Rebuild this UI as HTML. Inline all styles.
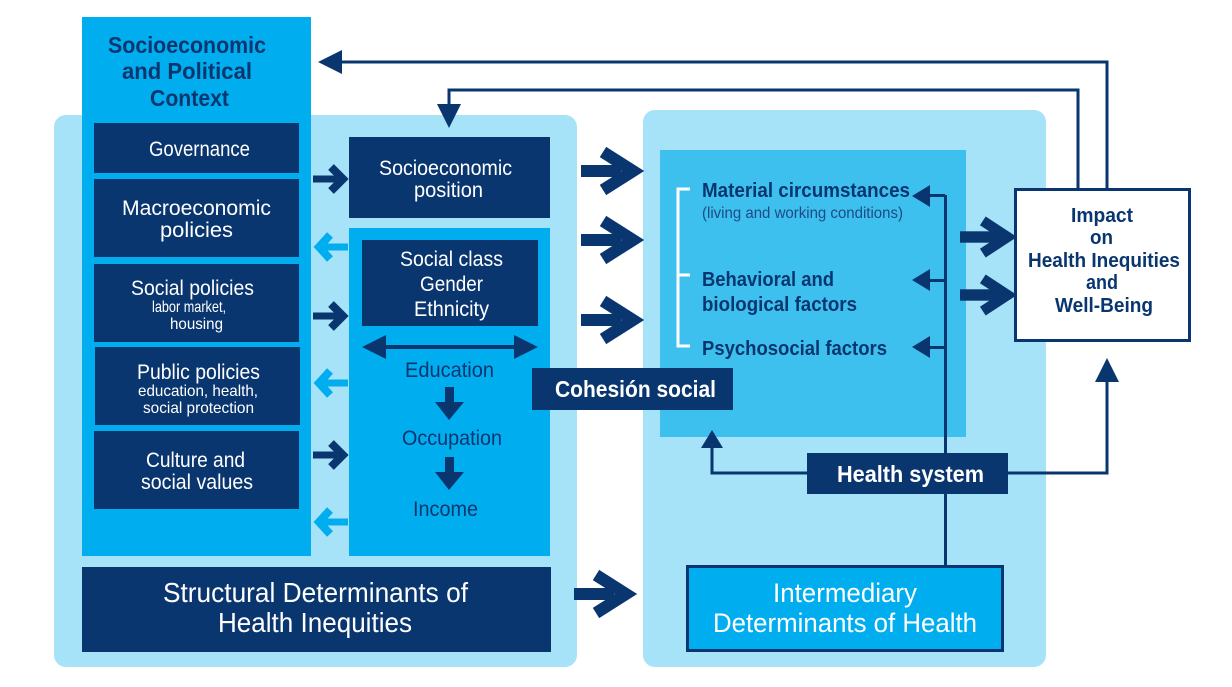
<!DOCTYPE html>
<html><head><meta charset="utf-8"><style>
html,body{margin:0;padding:0;background:#fff;}
svg{display:block}
text{font-family:"Liberation Sans",sans-serif;}
</style></head><body>
<svg width="1232" height="687" viewBox="0 0 1232 687" xmlns="http://www.w3.org/2000/svg">
<defs>
<g id="bigR"><rect x="0" y="-6" width="40" height="12" fill="#0a3670"/><polyline points="22,-19 52,0 22,19" fill="none" stroke="#0a3670" stroke-width="12" stroke-linejoin="miter"/></g>
<g id="smR"><rect x="0" y="-3.5" width="24" height="7" fill="#0a3670"/><polyline points="18,-12 30,0 18,12" fill="none" stroke="#0a3670" stroke-width="8"/></g>
<g id="smL"><rect x="6" y="-3.5" width="26" height="7" fill="#00aeef"/><polyline points="14,-12 3,0 14,12" fill="none" stroke="#00aeef" stroke-width="8"/></g>
</defs>
<rect x="54" y="115" width="523" height="552" rx="12" fill="#a6e2f8"/>
<rect x="643" y="110" width="403" height="557" rx="12" fill="#a6e2f8"/>
<rect x="82" y="17" width="229" height="539" fill="#00aeef"/>
<g font-weight="bold" font-size="23" fill="#0a3670" lengthAdjust="spacingAndGlyphs">
<text x="108" y="53" textLength="158" lengthAdjust="spacingAndGlyphs">Socioeconomic</text>
<text x="122" y="79" textLength="130" lengthAdjust="spacingAndGlyphs">and Political</text>
<text x="150" y="106" textLength="79" lengthAdjust="spacingAndGlyphs">Context</text>
</g>
<g fill="#0a3670">
<rect x="94" y="123" width="205" height="50"/>
<rect x="94" y="179" width="205" height="78"/>
<rect x="94" y="264" width="205" height="78"/>
<rect x="95" y="347" width="205" height="78"/>
<rect x="94" y="431" width="205" height="78"/>
<rect x="349" y="137" width="201" height="81"/>
<rect x="82" y="567" width="469" height="85"/>
</g>
<g fill="#fff" font-size="21">
<text x="149" y="156" textLength="101" lengthAdjust="spacingAndGlyphs">Governance</text>
<text x="122" y="215" textLength="149" lengthAdjust="spacingAndGlyphs">Macroeconomic</text>
<text x="160" y="237" textLength="73" lengthAdjust="spacingAndGlyphs">policies</text>
<text x="131" y="295" textLength="123" lengthAdjust="spacingAndGlyphs">Social policies</text>
<text x="152" y="312" font-size="16" textLength="74" lengthAdjust="spacingAndGlyphs">labor market,</text>
<text x="170" y="329" font-size="16" textLength="53" lengthAdjust="spacingAndGlyphs">housing</text>
<text x="137" y="379" textLength="123" lengthAdjust="spacingAndGlyphs">Public policies</text>
<text x="138" y="396" font-size="16" textLength="120" lengthAdjust="spacingAndGlyphs">education, health,</text>
<text x="143" y="413" font-size="16" textLength="111" lengthAdjust="spacingAndGlyphs">social protection</text>
<text x="146" y="467" textLength="99" lengthAdjust="spacingAndGlyphs">Culture and</text>
<text x="141" y="489" textLength="112" lengthAdjust="spacingAndGlyphs">social values</text>
<text x="379" y="175" textLength="133" lengthAdjust="spacingAndGlyphs">Socioeconomic</text>
<text x="414" y="197" textLength="69" lengthAdjust="spacingAndGlyphs">position</text>
<text x="163" y="602" font-size="28" textLength="305" lengthAdjust="spacingAndGlyphs">Structural Determinants of</text>
<text x="218" y="632" font-size="28" textLength="194" lengthAdjust="spacingAndGlyphs">Health Inequities</text>
</g>
<rect x="349" y="228" width="201" height="328" fill="#00aeef"/>
<rect x="362" y="240" width="176" height="86" fill="#0a3670"/>
<g fill="#fff" font-size="21">
<text x="400" y="266" textLength="103" lengthAdjust="spacingAndGlyphs">Social class</text>
<text x="420" y="291" textLength="63" lengthAdjust="spacingAndGlyphs">Gender</text>
<text x="414" y="316" textLength="75" lengthAdjust="spacingAndGlyphs">Ethnicity</text>
</g>
<g fill="#0a3670">
<rect x="375" y="345" width="150" height="4"/>
<polygon points="362,347 386,335 386,359"/><polygon points="538,347 514,335 514,359"/>
<rect x="445" y="387" width="9" height="18"/><polygon points="435,402 464,402 449,420"/>
<rect x="445" y="457" width="9" height="18"/><polygon points="435,472 464,472 449,490"/>
</g>
<g fill="#0a3670" font-size="21">
<text x="405" y="377" textLength="89" lengthAdjust="spacingAndGlyphs">Education</text>
<text x="402" y="445" textLength="100" lengthAdjust="spacingAndGlyphs">Occupation</text>
<text x="413" y="516" textLength="65" lengthAdjust="spacingAndGlyphs">Income</text>
</g>
<use href="#smR" x="313" y="179"/><use href="#smR" x="313" y="316"/><use href="#smR" x="313" y="455"/>
<use href="#smL" x="316" y="247"/><use href="#smL" x="316" y="383"/><use href="#smL" x="316" y="522"/>
<use href="#bigR" x="581" y="171"/><use href="#bigR" x="581" y="240"/><use href="#bigR" x="581" y="320"/><use href="#bigR" x="574" y="594"/>
<rect x="660" y="150" width="306" height="287" fill="#3ec0ef"/>
<polyline points="690,189 678,189 678,346 690,346" fill="none" stroke="#fff" stroke-width="3"/>
<line x1="678" y1="275" x2="690" y2="275" stroke="#fff" stroke-width="3"/>
<g fill="#0a3670" font-weight="bold" font-size="20">
<text x="702" y="197" textLength="208" lengthAdjust="spacingAndGlyphs">Material circumstances</text>
<text x="702" y="286" textLength="132" lengthAdjust="spacingAndGlyphs">Behavioral and</text>
<text x="702" y="311" textLength="155" lengthAdjust="spacingAndGlyphs">biological factors</text>
<text x="702" y="355" textLength="185" lengthAdjust="spacingAndGlyphs">Psychosocial factors</text>
</g>
<text x="702" y="218" fill="#1c4a86" font-size="16" textLength="201" lengthAdjust="spacingAndGlyphs">(living and working conditions)</text>
<g fill="#0a3670">
<rect x="944" y="195" width="3" height="372"/>
<rect x="925" y="194" width="20" height="3"/><polygon points="912,196 930,185 930,207"/>
<rect x="925" y="279" width="20" height="3"/><polygon points="912,280 930,269 930,291"/>
<rect x="925" y="346" width="20" height="3"/><polygon points="912,347 930,336 930,358"/>
</g>
<rect x="532" y="368" width="201" height="42" fill="#0a3670"/>
<text x="555" y="397" fill="#fff" font-weight="bold" font-size="23" textLength="161" lengthAdjust="spacingAndGlyphs">Cohesión social</text>
<polyline points="808,473 712,473 712,445" fill="none" stroke="#0a3670" stroke-width="3"/>
<polygon points="712,430 701,448 723,448" fill="#0a3670"/>
<polyline points="1008,473 1107,473 1107,376" fill="none" stroke="#0a3670" stroke-width="3"/>
<polygon points="1107,358 1095,382 1119,382" fill="#0a3670"/>
<rect x="807" y="453" width="201" height="41" fill="#0a3670"/>
<text x="837" y="482" fill="#fff" font-weight="bold" font-size="23" textLength="147" lengthAdjust="spacingAndGlyphs">Health system</text>
<rect x="1015.5" y="189.5" width="174" height="151" fill="#fff" stroke="#0a3670" stroke-width="3"/>
<g fill="#0a3670" font-weight="bold" font-size="20">
<text x="1071" y="222" textLength="62" lengthAdjust="spacingAndGlyphs">Impact</text>
<text x="1090" y="244" textLength="23" lengthAdjust="spacingAndGlyphs">on</text>
<text x="1028" y="267" textLength="152" lengthAdjust="spacingAndGlyphs">Health Inequities</text>
<text x="1086" y="289" textLength="32" lengthAdjust="spacingAndGlyphs">and</text>
<text x="1055" y="312" textLength="98" lengthAdjust="spacingAndGlyphs">Well-Being</text>
</g>
<g transform="translate(960,237) scale(0.95)"><rect x="0" y="-6" width="40" height="12" fill="#0a3670"/><polyline points="24,-17 50,0 24,17" fill="none" stroke="#0a3670" stroke-width="11"/></g>
<g transform="translate(960,295) scale(0.95)"><rect x="0" y="-6" width="40" height="12" fill="#0a3670"/><polyline points="24,-17 50,0 24,17" fill="none" stroke="#0a3670" stroke-width="11"/></g>
<polyline points="1107,189 1107,62 340,62" fill="none" stroke="#0a3670" stroke-width="3"/>
<polygon points="318,62 342,50 342,74" fill="#0a3670"/>
<polyline points="1078,189 1078,90 449,90 449,108" fill="none" stroke="#0a3670" stroke-width="3"/>
<polygon points="449,128 437,104 461,104" fill="#0a3670"/>
<rect x="687.5" y="566.5" width="315" height="84" fill="#00aeef" stroke="#0a3670" stroke-width="3"/>
<g fill="#fff" font-size="27">
<text x="773" y="602" textLength="144" lengthAdjust="spacingAndGlyphs">Intermediary</text>
<text x="713" y="632" textLength="264" lengthAdjust="spacingAndGlyphs">Determinants of Health</text>
</g>
</svg>
</body></html>
